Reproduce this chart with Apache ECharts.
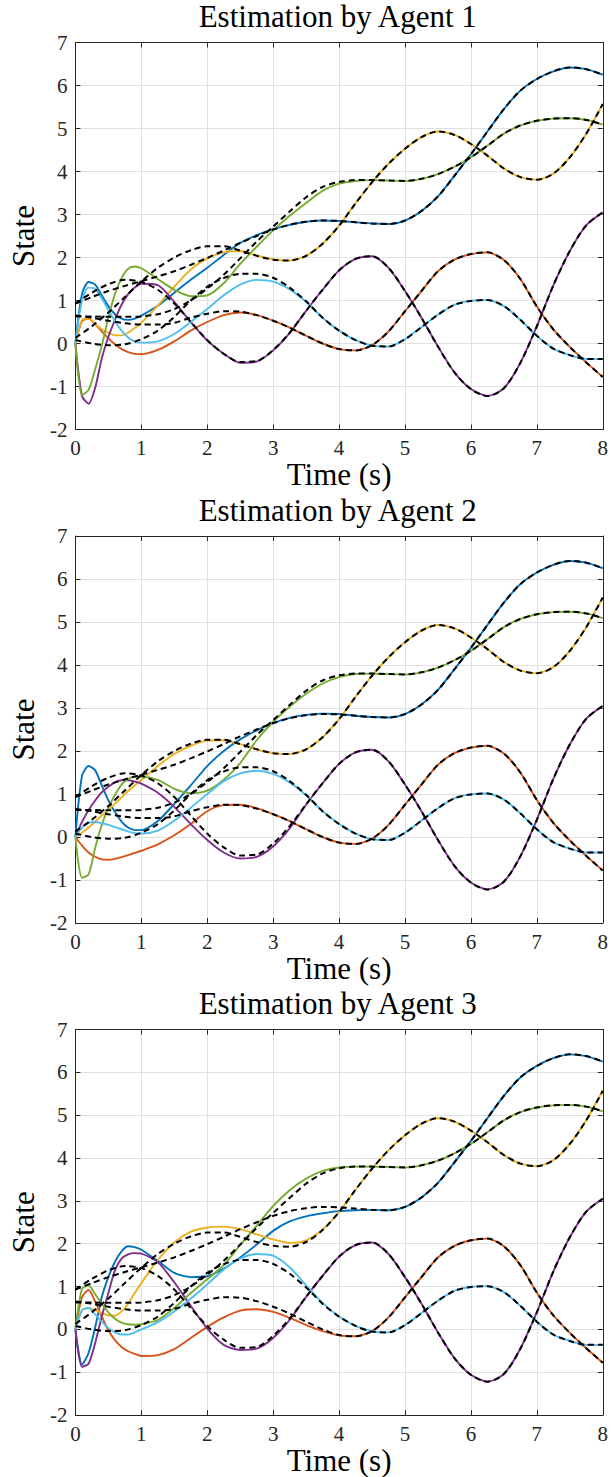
<!DOCTYPE html>
<html><head><meta charset="utf-8">
<script src="https://cdn.jsdelivr.net/npm/echarts@6/dist/echarts.min.js"></script>
<style>html,body{margin:0;padding:0;background:#fff}#c{width:611px;height:1477px}</style>
</head><body><div id="c"></div>
<script>
// time grids
const tTrue = [0,0.25,0.5,0.75,1,1.25,1.5,1.75,2,2.25,2.5,2.75,3,3.25,3.5,3.75,4,4.25,4.5,4.75,5,5.25,5.5,5.75,6,6.25,6.5,6.75,7,7.25,7.5,7.75,8];
const tEst = [0,0.1,0.2,0.3,0.4,0.5,0.6,0.7,0.8,0.9,1,1.25,1.5,1.75,2,2.25,2.5,2.75,3,3.25,3.5,3.75,4,4.25,4.5];

// true states (black dashed)
const blueT   = [0.93,1.08,1.22,1.34,1.45,1.56,1.68,1.83,1.99,2.16,2.34,2.5,2.65,2.76,2.83,2.86,2.85,2.82,2.79,2.78,2.86,3.08,3.42,3.9,4.4,4.93,5.45,5.88,6.15,6.33,6.42,6.38,6.25];
const orangeT = [0.65,0.6,0.53,0.47,0.44,0.44,0.48,0.6,0.69,0.75,0.74,0.66,0.53,0.37,0.18,0.0,-0.13,-0.16,-0.04,0.28,0.75,1.22,1.68,1.95,2.08,2.12,1.94,1.5,0.86,0.33,-0.08,-0.44,-0.78];
const yellowT = [0.13,0.4,0.72,1.08,1.44,1.76,2.0,2.17,2.26,2.26,2.16,2.04,1.95,1.93,2.04,2.32,2.74,3.26,3.75,4.18,4.53,4.8,4.93,4.85,4.64,4.37,4.07,3.87,3.81,3.95,4.33,4.88,5.57];
const purpleT = [0.93,1.18,1.38,1.48,1.43,1.25,0.93,0.5,0.08,-0.24,-0.43,-0.41,-0.15,0.25,0.76,1.25,1.7,1.97,2.03,1.76,1.22,0.6,-0.07,-0.67,-1.06,-1.22,-1.04,-0.45,0.4,1.35,2.15,2.75,3.05];
const greenT  = [0.63,0.63,0.62,0.62,0.63,0.68,0.8,1.0,1.28,1.6,1.98,2.37,2.72,3.07,3.4,3.64,3.76,3.8,3.8,3.79,3.78,3.83,3.94,4.11,4.33,4.6,4.88,5.07,5.18,5.23,5.24,5.2,5.09];
const cyanT   = [0.08,0.0,-0.04,-0.02,0.1,0.3,0.62,1.0,1.32,1.52,1.62,1.62,1.53,1.3,0.98,0.6,0.3,0.08,-0.05,-0.07,0.1,0.38,0.67,0.9,0.99,1.01,0.87,0.55,0.18,-0.12,-0.27,-0.36,-0.36];

// Agent 1 estimates (t = tEst), afterwards they follow the true states
const blue1   = [0,1.15,1.43,1.37,1.12,0.87,0.68,0.58,0.55,0.58,0.65,0.88,1.18,1.48,1.76,2.06,2.34,2.52,2.66,2.76,2.83,2.86,2.85,2.82,2.79];
const orange1 = [0,0.52,0.58,0.45,0.28,0.12,-0.02,-0.13,-0.2,-0.24,-0.25,-0.15,0.05,0.3,0.5,0.66,0.72,0.66,0.53,0.37,0.18,0.0,-0.13,-0.16,-0.04];
const yellow1 = [0,0.55,0.58,0.45,0.33,0.25,0.19,0.19,0.25,0.36,0.48,0.88,1.32,1.72,1.98,2.12,2.15,2.05,1.96,1.93,2.04,2.32,2.74,3.26,3.75];
const purple1 = [0,-1.22,-1.4,-1.03,-0.35,0.15,0.55,0.9,1.15,1.3,1.39,1.36,0.97,0.5,0.07,-0.24,-0.45,-0.42,-0.16,0.24,0.76,1.25,1.7,1.97,2.03];
const green1  = [0,-1.2,-1.08,-0.6,-0.05,0.6,1.15,1.52,1.74,1.79,1.75,1.5,1.25,1.1,1.12,1.4,1.85,2.25,2.63,2.97,3.27,3.55,3.72,3.78,3.8];
const cyan1   = [0,1.0,1.3,1.27,1.05,0.78,0.52,0.3,0.14,0.05,0.02,0.05,0.22,0.5,0.8,1.12,1.37,1.48,1.44,1.26,0.97,0.6,0.3,0.08,-0.05];

// Agent 2 estimates
const blue2   = [0,1.42,1.65,1.55,1.2,0.85,0.58,0.36,0.22,0.16,0.16,0.37,0.77,1.2,1.65,2.0,2.27,2.48,2.65,2.77,2.84,2.87,2.86,2.82,2.79];
const orange2 = [0,-0.2,-0.36,-0.46,-0.52,-0.53,-0.51,-0.47,-0.42,-0.37,-0.32,-0.17,0.04,0.3,0.6,0.74,0.75,0.67,0.53,0.37,0.18,0.0,-0.13,-0.16,-0.04];
const yellow2 = [0,0.1,0.22,0.36,0.5,0.63,0.77,0.92,1.07,1.2,1.32,1.65,1.93,2.12,2.24,2.25,2.16,2.04,1.95,1.93,2.04,2.32,2.74,3.26,3.75];
const purple2 = [0,0.35,0.63,0.85,1.04,1.17,1.27,1.32,1.32,1.29,1.24,1.03,0.7,0.3,-0.07,-0.36,-0.5,-0.46,-0.22,0.2,0.75,1.25,1.7,1.97,2.03];
const green2  = [0,-0.95,-0.87,-0.25,0.28,0.68,0.98,1.22,1.35,1.4,1.4,1.33,1.12,1.02,1.08,1.33,1.72,2.25,2.68,3.03,3.33,3.57,3.72,3.79,3.8];
const cyan2   = [0,0.22,0.33,0.35,0.32,0.28,0.23,0.18,0.13,0.09,0.08,0.15,0.38,0.68,1.0,1.3,1.48,1.54,1.47,1.27,0.97,0.6,0.31,0.08,-0.05];

// Agent 3 estimates
const blue3   = [0,-0.82,-0.55,0.05,0.75,1.22,1.58,1.82,1.94,1.92,1.86,1.6,1.32,1.22,1.24,1.42,1.68,1.98,2.3,2.52,2.64,2.71,2.76,2.78,2.79];
const orange3 = [0,0.75,0.92,0.65,0.3,-0.02,-0.25,-0.41,-0.51,-0.57,-0.62,-0.6,-0.46,-0.2,0.06,0.28,0.44,0.47,0.41,0.27,0.1,-0.04,-0.14,-0.16,-0.04];
const yellow3 = [0,0.45,0.5,0.45,0.38,0.33,0.32,0.42,0.6,0.85,1.08,1.62,2.03,2.28,2.38,2.4,2.34,2.22,2.1,2.02,2.08,2.33,2.74,3.26,3.75];
const purple3 = [0,-0.87,-0.8,-0.32,0.3,0.85,1.38,1.65,1.75,1.78,1.77,1.57,1.1,0.55,0.02,-0.36,-0.48,-0.45,-0.2,0.22,0.76,1.25,1.7,1.97,2.03];
const green3  = [0,0.95,1.03,0.82,0.6,0.4,0.25,0.16,0.12,0.11,0.12,0.22,0.5,0.85,1.17,1.5,1.97,2.42,2.88,3.25,3.52,3.7,3.78,3.8,3.8];
const cyan3   = [0,0.45,0.5,0.35,0.18,0.03,-0.07,-0.12,-0.12,-0.07,0.0,0.17,0.42,0.72,1.05,1.4,1.65,1.76,1.72,1.45,1.03,0.62,0.3,0.08,-0.05];

const titles = ['Estimation by Agent 1','Estimation by Agent 2','Estimation by Agent 3'];
const xTicks = [0,1,2,3,4,5,6,7,8];
const yTicks = [-2,-1,0,1,2,3,4,5,6,7];

const colors = ['#0072BD','#D95319','#EDB120','#7E2F8E','#77AC30','#4DBEEE'];
const truths = [blueT, orangeT, yellowT, purpleT, greenT, cyanT];
const agents = [
  [blue1, orange1, yellow1, purple1, green1, cyan1],
  [blue2, orange2, yellow2, purple2, green2, cyan2],
  [blue3, orange3, yellow3, purple3, green3, cyan3]
];

const FONT = 'Liberation Serif';
const AX = '#262626';
const tops = [42.5, 536, 1029.5];
const L = 70.5, W = 534.5, H = 387;

function estData(est, tru) {
  const d = tEst.map((t, i) => [t, est[i]]);
  const last = tEst[tEst.length - 1];
  for (let k = 0; k < tTrue.length; k++) if (tTrue[k] > last) d.push([tTrue[k], tru[k]]);
  return d;
}
function trueData(tru) { return tTrue.map((t, i) => [t, tru[i]]); }

const grid = [], xAxis = [], yAxis = [], series = [], graphic = [];
tops.forEach((top, g) => {
  grid.push({left: L, top: top, width: W, height: H, show: false, containLabel: false});
  const tick = {show: true, inside: true, length: 5, lineStyle: {color: AX, width: 1}};
  const line = {show: true, onZero: false, lineStyle: {color: AX, width: 1}};
  xAxis.push({
    type: 'value', gridIndex: g, position: 'bottom', min: xTicks[0], max: xTicks[xTicks.length-1], interval: 1,
    axisLine: line, axisTick: tick,
    axisLabel: {show: true, color: AX, fontFamily: FONT, fontSize: 21, margin: 8, showMinLabel: true, showMaxLabel: true},
    splitLine: {show: true, lineStyle: {color: '#e0e0e0', width: 1}},
    name: 'Time (s)', nameLocation: 'middle', nameGap: 27,
    nameTextStyle: {fontFamily: FONT, fontSize: 31, color: '#000'}
  });
  xAxis.push({
    type: 'value', gridIndex: g, position: 'top', min: xTicks[0], max: xTicks[xTicks.length-1], interval: 1,
    axisLine: line, axisTick: tick, axisLabel: {show: false}, splitLine: {show: false}
  });
  yAxis.push({
    type: 'value', gridIndex: g, position: 'left', min: yTicks[0], max: yTicks[yTicks.length-1], interval: 1,
    axisLine: line, axisTick: tick,
    axisLabel: {show: true, color: AX, fontFamily: FONT, fontSize: 21, margin: 8, showMinLabel: true, showMaxLabel: true},
    splitLine: {show: true, lineStyle: {color: '#e0e0e0', width: 1}},
    name: 'State', nameLocation: 'middle', nameGap: 28, nameRotate: 90,
    nameTextStyle: {fontFamily: FONT, fontSize: 31, color: '#000'}
  });
  yAxis.push({
    type: 'value', gridIndex: g, position: 'right', min: yTicks[0], max: yTicks[yTicks.length-1], interval: 1,
    axisLine: line, axisTick: tick, axisLabel: {show: false}, splitLine: {show: false}
  });
  agents[g].forEach((est, s) => {
    series.push({
      type: 'line', xAxisIndex: 2*g, yAxisIndex: 2*g, data: estData(est, truths[s]),
      symbol: 'none', smooth: 0.25, z: 2, silent: true,
      lineStyle: {color: colors[s], width: 1.9}
    });
  });
  truths.forEach((tru) => {
    series.push({
      type: 'line', xAxisIndex: 2*g, yAxisIndex: 2*g, data: trueData(tru),
      symbol: 'none', smooth: 0.3, z: 3, silent: true,
      lineStyle: {color: '#000', width: 2, type: [6, 4]}
    });
  });
  graphic.push({
    type: 'text', x: L + W/2, y: top - 26, silent: true,
    style: {text: titles[g], fontFamily: FONT, fontSize: 31, fill: '#000',
            align: 'center', verticalAlign: 'middle', textAlign: 'center', textVerticalAlign: 'middle'}
  });
});

const chart = echarts.init(document.getElementById('c'), null, {renderer: 'svg'});
chart.setOption({animation: false, backgroundColor: '#fff', grid, xAxis, yAxis, series, graphic});
</script></body></html>
